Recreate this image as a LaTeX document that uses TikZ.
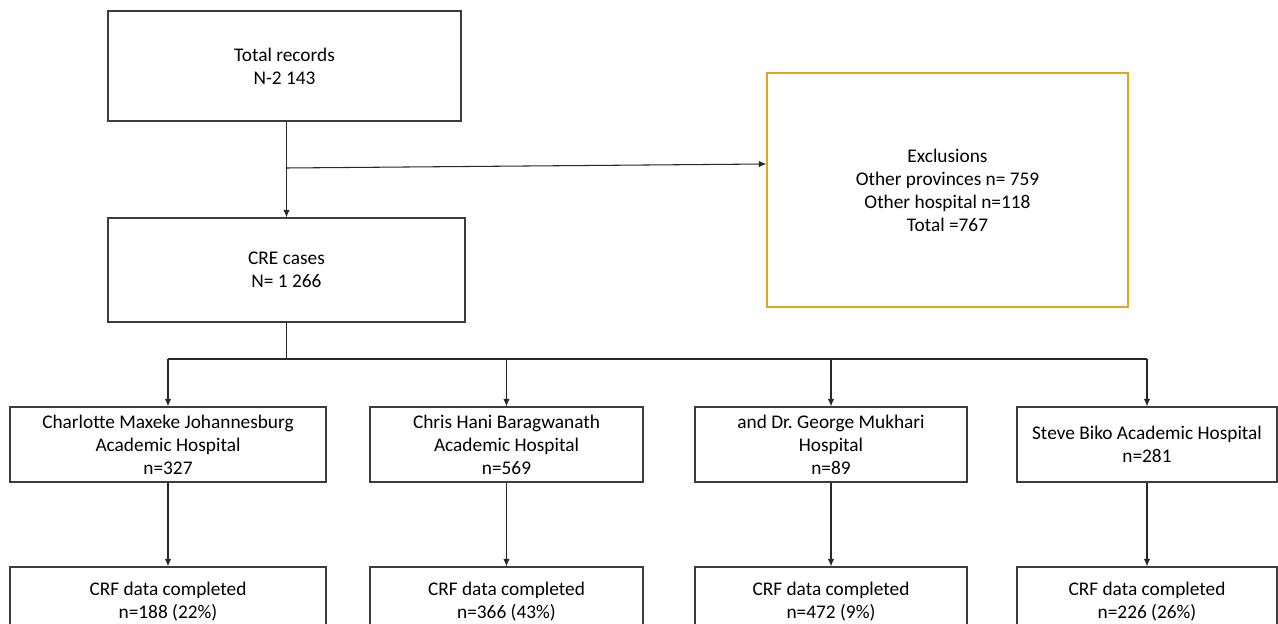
\documentclass[tikz,border=0pt]{standalone}
\usepackage{fontspec}
\setmainfont{Carlito}
\usetikzlibrary{arrows.meta}
\definecolor{boxline}{RGB}{60,60,60}
\definecolor{exclline}{RGB}{224,166,30}
\definecolor{conline}{RGB}{40,40,40}
\tikzset{
  flowbox/.style={draw=boxline, line width=0.7pt, rectangle, inner sep=0pt, align=center,
    font=\fontsize{11}{13.1}\selectfont, text=black},
  exclbox/.style={flowbox, draw=exclline},
  conn/.style={draw=conline, line width=0.6pt},
  arr/.style={conn, -{Latex[length=0.15cm, width=0.13cm]}}
}
\begin{document}
\begin{tikzpicture}[x=0.02cm, y=-0.02cm]
\useasboundingbox (0,0) rectangle (1278,624);
\clip (0,0) rectangle (1278,624);
\fill[white] (0,0) rectangle (1278,624);

\node[flowbox, minimum width=353*0.02cm, minimum height=110*0.02cm] (tot) at (284.5,66)
  {Total records\\N-2 143};
\node[exclbox, minimum width=361*0.02cm, minimum height=234*0.02cm] (excl) at (947.5,190)
  {Exclusions\\Other provinces n= 759\\Other hospital n=118\\Total =767};
\node[flowbox, minimum width=357*0.02cm, minimum height=104*0.02cm] (cre) at (286.5,270)
  {CRE cases\\N= 1 266};

\node[flowbox, minimum width=316*0.02cm, minimum height=75*0.02cm] (hA) at (168,444.5)
  {Charlotte Maxeke Johannesburg\\Academic Hospital\\n=327};
\node[flowbox, minimum width=273*0.02cm, minimum height=75*0.02cm] (hB) at (506.5,444.5)
  {Chris Hani Baragwanath\\Academic Hospital\\n=569};
\node[flowbox, minimum width=272*0.02cm, minimum height=75*0.02cm] (hC) at (831,444.5)
  {and Dr.\ George Mukhari\\Hospital\\n=89};
\node[flowbox, minimum width=260*0.02cm, minimum height=75*0.02cm] (hD) at (1147,444.5)
  {Steve Biko Academic Hospital\\n=281};

\node[flowbox, minimum width=316*0.02cm, minimum height=69*0.02cm] (rA) at (168,601.5)
  {CRF data completed\\n=188 (22\%)};
\node[flowbox, minimum width=273*0.02cm, minimum height=69*0.02cm] (rB) at (506.5,601.5)
  {CRF data completed\\n=366 (43\%)};
\node[flowbox, minimum width=272*0.02cm, minimum height=69*0.02cm] (rC) at (831,601.5)
  {CRF data completed\\n=472 (9\%)};
\node[flowbox, minimum width=260*0.02cm, minimum height=69*0.02cm] (rD) at (1147,601.5)
  {CRF data completed\\n=226 (26\%)};

% top part
\draw[arr] (tot.south -| cre.north) -- (cre.north);
\coordinate (j1) at (287,168);
\draw[arr] (j1) -- ([yshift=0.52cm]excl.west);

% branch
\coordinate (j2) at (286.5,359);
\draw[conn] (cre.south) -- (j2);
\draw[conn] (hA.north |- j2) -- (hD.north |- j2);
\foreach \h in {hA,hB,hC,hD}{
  \draw[arr] (\h.north |- j2) -- (\h.north);
}
\draw[arr] (hA.south) -- (rA.north);
\draw[arr] (hB.south) -- (rB.north);
\draw[arr] (hC.south) -- (rC.north);
\draw[arr] (hD.south) -- (rD.north);
\end{tikzpicture}
\end{document}
